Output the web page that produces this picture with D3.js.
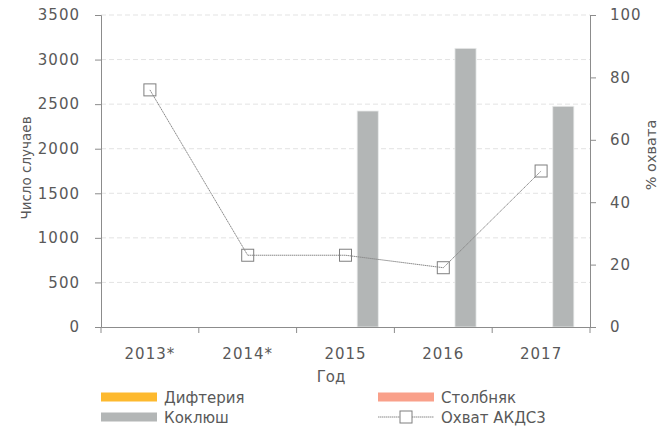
<!DOCTYPE html>
<html><head><meta charset="utf-8">
<script src="https://cdn.jsdelivr.net/npm/d3@7"></script>
<style>body{margin:0;background:#fff}svg{display:block}text{font-family:"DejaVu Sans",Verdana,sans-serif;fill:#595959}</style>
</head><body>
<script>
const years = ["2013*", "2014*", "2015", "2016", "2017"];
const seriesNames = ["Дифтерия", "Столбняк", "Коклюш"];
const diphtheria = [0, 0, 0, 0, 0];
const tetanus = [0, 0, 0, 0, 0];
const pertussis = [0, 0, 2423, 3126, 2476];
const coverage = [76, 23, 23, 19, 50];
const leftTicks = [0, 500, 1000, 1500, 2000, 2500, 3000, 3500];
const rightTicks = [0, 20, 40, 60, 80, 100];
const colors = ["#FDB92E", "#F9A08A", "#B3B6B6"];

const W = 672, H = 428;
const m = {left: 101, right: 82, top: 15, bottom: 101};
const iw = W - m.left - m.right, ih = H - m.top - m.bottom;
const svg = d3.select("body").append("svg").attr("width", W).attr("height", H);
const g = svg.append("g").attr("transform", `translate(${m.left},${m.top})`);

const x = d3.scaleBand().domain(years).range([0, iw]);
const xs = d3.scaleBand().domain(seriesNames).range([x.bandwidth()*0.165, x.bandwidth()*0.835]).paddingInner(0.05);
const y = d3.scaleLinear().domain([0, 3500]).range([ih, 0]);
const y2 = d3.scaleLinear().domain([0, 100]).range([ih, 0]);

// grid
g.selectAll(".grid").data(leftTicks.filter(d => d > 0)).join("line")
  .attr("x1", 0).attr("x2", iw).attr("y1", d => y(d)).attr("y2", d => y(d))
  .attr("stroke", "#e3e3e3").attr("stroke-dasharray", "5,3");

// bars
const series = [diphtheria, tetanus, pertussis];
series.forEach((vals, si) => {
  g.selectAll(".b" + si).data(vals.map((v, i) => ({v, i}))).join("rect")
    .attr("x", d => x(years[d.i]) + xs(seriesNames[si]))
    .attr("width", xs.bandwidth())
    .attr("y", d => y(d.v)).attr("height", d => ih - y(d.v))
    .attr("fill", colors[si]).attr("stroke", "#e8eaea").attr("stroke-width", 0.8);
});

// axes
const axisColor = "#8c8c8c";
const ax = g.append("g").call(d3.axisLeft(y).tickValues(leftTicks).tickFormat(d3.format("d")).tickSize(6).tickPadding(15));
const ax2 = g.append("g").attr("transform", `translate(${iw},0)`).call(d3.axisRight(y2).tickValues(rightTicks).tickFormat(d3.format("d")).tickSize(6).tickPadding(14));
const axb = g.append("g").attr("transform", `translate(0,${ih})`)
  .call(d3.axisBottom(x).tickSize(0).tickPadding(21));
[ax, ax2, axb].forEach(a => {
  a.select(".domain").attr("stroke", axisColor);
  a.selectAll(".tick line").attr("stroke", axisColor);
  a.selectAll("text").attr("font-size", 15).attr("fill", "#595959")
    .attr("letter-spacing", 1).attr("font-family", '"DejaVu Sans",Verdana,sans-serif');
});
// bottom ticks between categories
const bounds = d3.range(years.length + 1).map(i => i * x.step());
g.selectAll(".xt").data(bounds).join("line")
  .attr("x1", d => d).attr("x2", d => d).attr("y1", ih).attr("y2", ih + 6)
  .attr("stroke", axisColor);

// line
const line = d3.line().x((d, i) => x(years[i]) + x.bandwidth()/2).y(d => y2(d));
g.append("path").datum(coverage).attr("d", line).attr("fill", "none")
  .attr("stroke", "#8a8a8a").attr("stroke-width", 1).attr("stroke-dasharray", "1.5,0.5");
g.selectAll(".mk").data(coverage).join("rect")
  .attr("x", (d, i) => x(years[i]) + x.bandwidth()/2 - 6)
  .attr("y", d => y2(d) - 6).attr("width", 12).attr("height", 12)
  .attr("fill", "none").attr("stroke", "#7f7f7f").attr("stroke-width", 1);

// axis titles
svg.append("text").attr("transform", "translate(31,168) rotate(-90)").attr("text-anchor", "middle")
  .attr("font-size", 13.5).text("Число случаев");
svg.append("text").attr("transform", "translate(656,155) rotate(-90)").attr("text-anchor", "middle")
  .attr("font-size", 14.5).text("% охвата");
svg.append("text").attr("x", 331).attr("y", 382).attr("text-anchor", "middle")
  .attr("font-size", 15).text("Год");

// legend
const legendItems = [
  {name: seriesNames[0], type: "bar", color: colors[0], x: 101, y: 397},
  {name: seriesNames[1], type: "bar", color: colors[1], x: 378, y: 397},
  {name: seriesNames[2], type: "bar", color: colors[2], x: 101, y: 417},
  {name: "Охват АКДС3", type: "line", x: 378, y: 417}
];
legendItems.forEach(it => {
  const lg = svg.append("g");
  if (it.type === "bar") {
    lg.append("rect").attr("x", it.x).attr("y", it.y - 4.5).attr("width", 56).attr("height", 9).attr("fill", it.color);
  } else {
    lg.append("line").attr("x1", it.x).attr("x2", it.x + 56).attr("y1", it.y).attr("y2", it.y)
      .attr("stroke", "#8a8a8a").attr("stroke-dasharray", "1.5,0.5");
    lg.append("rect").attr("x", it.x + 22).attr("y", it.y - 6).attr("width", 12).attr("height", 12)
      .attr("fill", "#fff").attr("stroke", "#7f7f7f");
  }
  lg.append("text").attr("x", it.x + 63).attr("y", it.y + 5.5).attr("font-size", 15).text(it.name);
});
</script>
</body></html>
